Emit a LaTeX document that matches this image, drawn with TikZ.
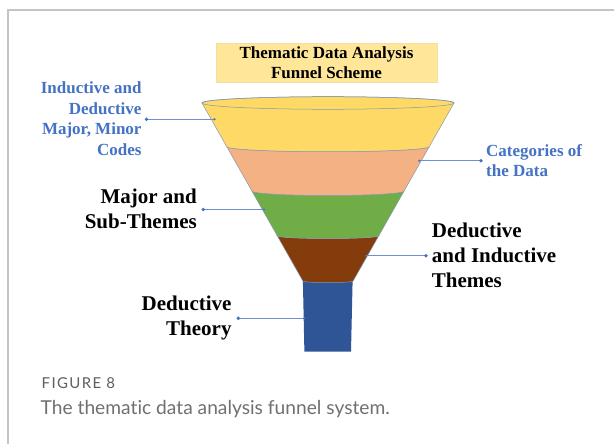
\documentclass[tikz,border=0pt]{standalone}
\usepackage{fontspec}
\setmainfont{Liberation Serif}
\newfontfamily\capfont[Ligatures=NoCommon]{Lato}
\newfontfamily\capheadfont[LetterSpace=9]{Lato}
\definecolor{lblblue}{HTML}{4472C4}
\definecolor{linkblue}{HTML}{6F8FD0}
\definecolor{edge}{HTML}{8497B0}
\definecolor{bandyellow}{HTML}{FFD966}
\definecolor{bandpeach}{HTML}{F4B183}
\definecolor{bandgreen}{HTML}{70AD47}
\definecolor{bandbrown}{HTML}{843C0C}
\definecolor{spoutblue}{HTML}{2F5597}
\definecolor{titlefill}{HTML}{FFE699}
\definecolor{titleedge}{HTML}{F3DFA6}
\definecolor{framegray}{HTML}{C4C4C4}
\definecolor{capgray}{HTML}{5E5E5E}
\definecolor{captext}{HTML}{707070}
\begin{document}
\begin{tikzpicture}[x=1pt,y=-1pt,
  bluelbl/.style={inner sep=0pt, text=lblblue, font=\fontsize{17}{20.5}\selectfont\bfseries},
  blacklbl/.style={inner sep=0pt, text=black, font=\fontsize{21}{25}\selectfont\bfseries},
  link/.style={draw=linkblue, line width=0.9pt},
  dotbig/.style={fill=lblblue, draw=none},
  band/.style={draw=edge, line width=0.5pt}]
\useasboundingbox (0,0) rectangle (614,444);
\fill[white] (0,0) rectangle (614,444);
% panel frame
\draw[framegray, line width=1.6pt] (7.7,444) -- (7.7,10) -- (614,10);

% title box
\node[draw=titleedge, fill=titlefill, minimum width=221pt, minimum height=39pt, inner sep=0pt,
      align=center, font=\fontsize{17}{20.3}\selectfont\bfseries] (title) at (326.5,62.5)
  {Thematic Data Analysis\\Funnel Scheme};

% spout
\fill[spoutblue] (302.9,281) -- (352.6,281) -- (351,351.7) -- (304.4,351.7) -- cycle;

% funnel bands: each band runs between two elliptic rims (lower halves)
\def\k{0.5523}
\foreach \ya/\aa/\ba/\yb/\ab/\bb/\col in {
   235.7/50.8/2.8/281/25.1/1.7/bandbrown,
   191/76.1/4.5/235.7/50.8/2.8/bandgreen,
   146.7/101.2/5/191/76.1/4.5/bandpeach}{
  \draw[band, fill=\col]
    ({328-\aa},\ya) .. controls ({328-\aa},{\ya+\k*\ba}) and ({328-\k*\aa},{\ya+\ba}) .. (328,{\ya+\ba})
      .. controls ({328+\k*\aa},{\ya+\ba}) and ({328+\aa},{\ya+\k*\ba}) .. ({328+\aa},\ya)
    -- ({328+\ab},\yb)
    .. controls ({328+\ab},{\yb+\k*\bb}) and ({328+\k*\ab},{\yb+\bb}) .. (328,{\yb+\bb})
      .. controls ({328-\k*\ab},{\yb+\bb}) and ({328-\ab},{\yb+\k*\bb}) .. ({328-\ab},\yb)
    -- cycle;
}
% top band with the open mouth
\draw[band, fill=bandyellow]
  (202,103) .. controls (202,{103-\k*6.3}) and ({328-\k*126},96.7) .. (328,96.7)
    .. controls ({328+\k*126},96.7) and (454,{103-\k*6.3}) .. (454,103)
  -- ({328+101.2},146.7)
  .. controls ({328+101.2},{146.7+\k*5}) and ({328+\k*101.2},151.7) .. (328,151.7)
    .. controls ({328-\k*101.2},151.7) and ({328-101.2},{146.7+\k*5}) .. ({328-101.2},146.7)
  -- cycle;
\draw[band] (328,103) ellipse [x radius=126, y radius=6.3];

% anchor points on the funnel
\coordinate (fCodes) at (214.5,119.3);
\coordinate (fCat) at (419.3,160.7);
\coordinate (fMajor) at (264,209.5);
\coordinate (fDedInd) at (366,255.8);
\coordinate (fTheory) at (304.3,318.3);

% labels
\node[bluelbl, anchor=east, align=right] (codes) at (141.7,118.7)
  {Inductive and\\Deductive\\Major, Minor\\Codes};
\node[bluelbl, anchor=west, align=left] (cat) at (486,160.5)
  {Categories of\\the Data};
\node[blacklbl, anchor=east, align=right] (major) at (197,209)
  {Major and\\Sub-Themes};
\node[blacklbl, anchor=west, align=left] (dedind) at (431.7,255)
  {Deductive\\and Inductive\\Themes};
\node[blacklbl, anchor=east, align=right] (theory) at (231.7,317.5)
  {Deductive\\Theory};

% connectors
\coordinate (dCodes) at (146.5,119.3);
\coordinate (dCat) at (481,160.7);
\coordinate (dMajor) at (203.3,209.5);
\coordinate (dDedInd) at (426,255.8);
\coordinate (dTheory) at (238.3,318.3);
\foreach \a/\b in {dCodes/fCodes, dCat/fCat, dMajor/fMajor, dDedInd/fDedInd, dTheory/fTheory}{
  \draw[link] (\a) -- (\b);
  \fill[dotbig] (\a) circle[radius=1.9pt];
  \fill[dotbig] (\b) circle[radius=1.2pt];
}

% caption
\node[anchor=base west, inner sep=0pt, text=capgray, font=\capheadfont\fontsize{15}{17}\selectfont] (figno) at (41.5,388.3) {FIGURE 8};
\node[anchor=base west, inner sep=0pt, text=captext, font=\capfont\fontsize{19.2}{22}\selectfont] (caption) at (40.5,414) {The thematic data analysis funnel system.};
\end{tikzpicture}
\end{document}
